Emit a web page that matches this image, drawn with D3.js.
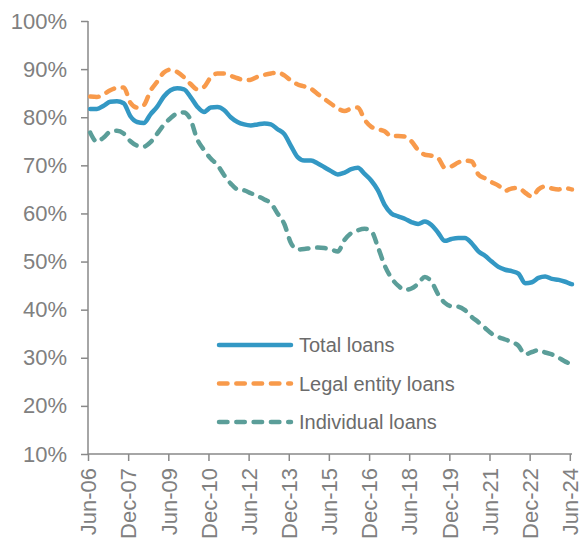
<!DOCTYPE html>
<html>

<head>
    <meta charset="utf-8">
    <style>
        body { margin: 0; background: #fff; }
        svg { font-family: "Liberation Sans", Arial, sans-serif; }
        .axis path, .axis line { stroke: #898989; stroke-width: 1.5px; }
        .axis text { fill: #808080; font-size: 22px; }
        .series { fill: none; stroke-width: 4.5px; stroke-linejoin: round; stroke-linecap: round; }
        .legend text { fill: #6b6b6b; font-size: 20px; }
    </style>
</head>

<body>
    <script src="https://cdn.jsdelivr.net/npm/d3@7"></script>
    <script>
        // Axis tick labels
        var xTickLabels = ["Jun-06", "Dec-07", "Jun-09", "Dec-10", "Jun-12", "Dec-13", "Jun-15",
            "Dec-16", "Jun-18", "Dec-19", "Jun-21", "Dec-22", "Jun-24"];
        var yTickValues = [10, 20, 30, 40, 50, 60, 70, 80, 90, 100];

        // Quarterly readings from Jun-06 to Jun-24, plus a last point for Jul-24
        var totalLoans = [81.7, 81.7, 82.4, 83.2, 83.3, 82.9, 80.2, 79.0, 78.8, 80.6,
            82.2, 84.3, 85.6, 86.0, 85.8, 84.2, 82.2, 81.1, 82.0, 82.1,
            81.5, 80.0, 79.0, 78.5, 78.3, 78.5, 78.7, 78.5, 77.5, 76.5,
            74.0, 71.7, 71.0, 71.0, 70.4, 69.6, 68.8, 68.1, 68.5, 69.2,
            69.5, 68.2, 66.8, 64.8, 61.8, 60.0, 59.4, 58.9, 58.2, 57.8,
            58.3, 57.6, 56.0, 54.3, 54.7, 54.9, 54.9, 53.8, 52.1, 51.2,
            50.0, 48.9, 48.3, 48.0, 47.5, 45.5, 45.7, 46.6, 46.9, 46.4,
            46.2, 45.8, 45.3, 45.0];
        var legalEntityLoans = [84.3, 84.2, 84.8, 85.6, 86.1, 86.2, 83.0, 82.0, 82.5, 85.5,
            87.4, 89.3, 89.9, 89.4, 88.3, 86.9, 85.8, 86.3, 88.3, 89.1,
            89.1, 88.6, 88.1, 87.7, 87.8, 88.4, 88.8, 89.1, 89.3, 88.7,
            87.6, 86.8, 86.4, 85.9, 84.8, 83.8, 82.8, 81.8, 81.3, 81.8,
            82.0, 79.5, 78.0, 77.5, 77.1, 76.0, 76.1, 76.0, 75.0, 73.2,
            72.2, 72.0, 71.5, 69.5, 69.8, 70.6, 71.0, 70.8, 68.1, 67.3,
            66.5, 65.8, 64.7, 65.2, 65.3, 64.3, 63.5, 65.0, 65.6, 65.2,
            65.0, 65.3, 65.0, 64.4];
        var individualLoans = [76.8, 74.9, 75.8, 77.0, 77.2, 76.6, 75.0, 74.1, 73.9, 74.8,
            76.6, 78.4, 79.8, 80.8, 81.0, 79.5, 75.4, 73.2, 71.4, 70.1,
            68.0, 66.2, 65.0, 64.8, 64.2, 63.6, 62.9, 62.1, 60.0, 57.8,
            53.8, 52.5, 52.6, 52.8, 52.9, 52.8, 52.5, 52.1, 54.5, 55.9,
            56.5, 56.8, 56.3, 53.0, 49.2, 46.6, 45.0, 44.1, 44.4, 45.4,
            46.8, 45.8, 43.2, 41.4, 40.7, 40.6, 39.9, 38.5, 37.4, 36.2,
            35.0, 34.3, 33.8, 33.3, 32.5, 30.7, 31.2, 31.6, 31.1, 30.7,
            30.0, 29.2, 28.6, null];

        var seriesNames = ["Total loans", "Legal entity loans", "Individual loans"];
        var seriesColors = ["#3398c4", "#f89a4b", "#5b9e99"];
        var seriesDash = [null, "8.5,8.8", "8.5,8.8"];

        var width = 581, height = 538;
        var parseTick = d3.timeParse("%b-%y");

        // quarterly dates from Jun-06, and the Jul-24 end point
        var dates = d3.timeMonth.every(3).range(new Date(2006, 5, 1), new Date(2024, 6, 1));
        dates.push(new Date(2024, 6, 1));

        var x = d3.scaleTime()
            .domain([new Date(2006, 5, 1), new Date(2024, 6, 1)])
            .range([88, 572]);
        var y = d3.scaleLinear().domain([10, 100]).range([454, 21]);

        var svg = d3.select("body").append("svg")
            .attr("width", width)
            .attr("height", height);

        // y axis
        svg.append("g")
            .attr("class", "axis")
            .attr("transform", "translate(88,0)")
            .call(d3.axisLeft(y).tickValues(yTickValues).tickSize(7).tickPadding(14)
                .tickFormat(function (d) { return d + "%"; }))
            .call(function (g) { g.select(".domain").attr("d", "M0,21V454"); });

        // x axis, labels rotated
        var xAxis = svg.append("g")
            .attr("class", "axis")
            .attr("transform", "translate(0,454)")
            .call(d3.axisBottom(x).tickValues(xTickLabels.map(parseTick)).tickSize(7)
                .tickFormat(d3.timeFormat("%b-%y")))
            .call(function (g) { g.select(".domain").attr("d", "M88,0H572"); });
        xAxis.selectAll(".tick text")
            .attr("transform", "rotate(-90)")
            .attr("text-anchor", "end")
            .attr("x", -14)
            .attr("y", 0)
            .attr("dy", "0.35em");

        var allSeries = [totalLoans, legalEntityLoans, individualLoans];

        var line = d3.line()
            .defined(function (d) { return d != null; })
            .x(function (d, i) { return x(dates[i]); })
            .y(function (d) { return y(d); })
            .curve(d3.curveMonotoneX);

        // draw individual first, legal next, total on top
        [2, 1, 0].forEach(function (s) {
            svg.append("path")
                .datum(allSeries[s])
                .attr("class", "series")
                .attr("stroke", seriesColors[s])
                .attr("stroke-dasharray", seriesDash[s])
                .attr("d", line);
        });

        // legend
        var legend = svg.append("g").attr("class", "legend");
        var legendY = [345, 383.5, 422];
        seriesNames.forEach(function (name, i) {
            legend.append("line")
                .attr("class", "series")
                .attr("x1", 219).attr("x2", 291)
                .attr("y1", legendY[i]).attr("y2", legendY[i])
                .attr("stroke", seriesColors[i])
                .attr("stroke-dasharray", seriesDash[i]);
            legend.append("text")
                .attr("x", 299)
                .attr("y", legendY[i])
                .attr("dy", "0.35em")
                .text(name);
        });
    </script>
</body>

</html>
